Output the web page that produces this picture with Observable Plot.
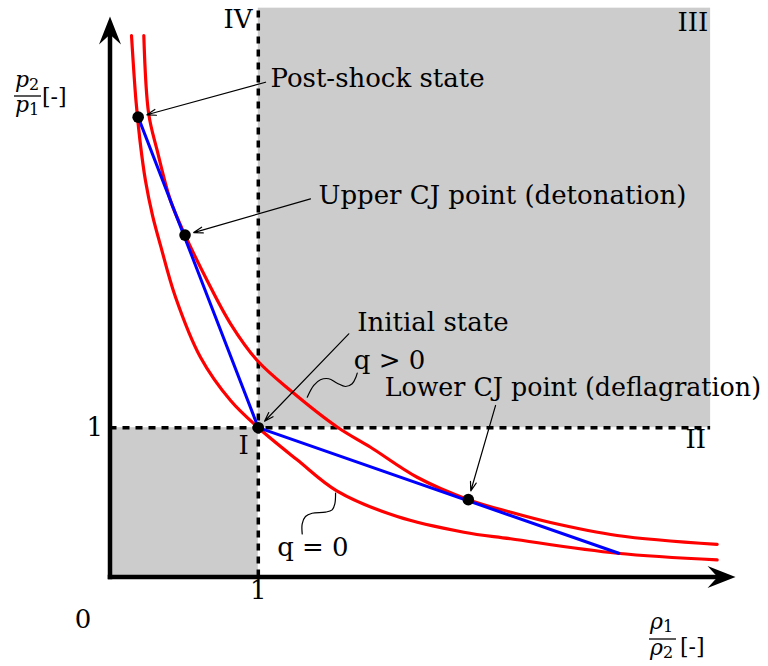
<!DOCTYPE html>
<html>
<head>
<meta charset="utf-8">
<script src="https://cdn.jsdelivr.net/npm/d3@7"></script>
<script src="https://cdn.jsdelivr.net/npm/@observablehq/plot@0.6"></script>
<style>
  body { margin: 0; background: #fff; }
  svg { display: block; }
</style>
</head>
<body>
<div id="chart"></div>
<script>
// ---- Hugoniot curve, q = 0 (passes through the initial state) ----
const q0X = [0.145, 0.175, 0.202, 0.239, 0.287, 0.341, 0.442, 0.610, 0.813, 1.000, 1.262, 1.532, 1.937, 2.386, 2.701, 3.420, 4.094];
const q0Y = [3.627, 3.192, 2.924, 2.656, 2.421, 2.220, 1.874, 1.472, 1.182, 1.000, 0.785, 0.575, 0.405, 0.300, 0.256, 0.159, 0.115];

// ---- Hugoniot curve, q > 0 ----
const qpX = [0.228, 0.261, 0.318, 0.408, 0.506, 0.655, 0.813, 0.993, 1.217, 1.534, 1.757, 2.071, 2.416, 2.701, 2.970, 3.420, 4.094];
const qpY = [3.627, 3.102, 2.857, 2.521, 2.290, 1.986, 1.696, 1.450, 1.249, 1.003, 0.869, 0.668, 0.518, 0.434, 0.365, 0.278, 0.218];

// ---- Rayleigh lines (blue) ----
const detonationX = [1.000, 0.190];
const detonationY = [1.000, 3.080];
const deflagrationX = [1.000, 3.431];
const deflagrationY = [1.000, 0.159];

// ---- Marked states ----
const stateNames = ["Post-shock state", "Upper CJ point (detonation)", "Initial state", "Lower CJ point (deflagration)"];
const stateX = [0.190, 0.506, 1.000, 2.416];
const stateY = [3.080, 2.290, 1.000, 0.518];
const labelX = [1.082, 1.406, 1.667, 1.852];
const labelY = [3.279, 2.495, 1.646, 1.211];
const arrowFromX = [1.049, 1.352, 1.610, 2.600];
const arrowFromY = [3.314, 2.533, 1.629, 1.149];

// ---- Quadrants ----
const quadrantNames = ["I", "II", "III", "IV"];
const quadrantX = [0.866, 3.880, 3.827, 0.765];
const quadrantY = [0.825, 0.861, 3.660, 3.674];
const shadedX1 = [0, 1];
const shadedX2 = [1, 4.05];
const shadedY1 = [0, 1];
const shadedY2 = [1, 3.81];

// ---- Heat-release labels and their brace squiggles ----
const heatNames = ["q > 0", "q = 0"];
const heatX = [1.644, 1.127];
const heatY = [1.390, 0.144];
const braceQpX = [1.330, 1.374, 1.419, 1.475, 1.532, 1.588, 1.633, 1.660, 1.667];
const braceQpY = [1.204, 1.283, 1.321, 1.328, 1.298, 1.276, 1.294, 1.343, 1.365];
const braceQ0X = [1.521, 1.516, 1.498, 1.453, 1.363, 1.318, 1.296, 1.296];
const braceQ0Y = [0.562, 0.490, 0.450, 0.434, 0.427, 0.405, 0.356, 0.289];

// ---- Axes ----
const axisTipX = 4.218;
const axisTipY = 3.754;
const tickValue = 1;

// ---- build tables ----
const zip = (xs, ys) => xs.map((x, i) => ({x, y: ys[i]}));
const q0 = zip(q0X, q0Y);
const qp = zip(qpX, qpY);
const det = zip(detonationX, detonationY);
const defl = zip(deflagrationX, deflagrationY);
const states = stateNames.map((name, i) => ({
  name, x: stateX[i], y: stateY[i], lx: labelX[i], ly: labelY[i], ax: arrowFromX[i], ay: arrowFromY[i]
}));
const quadrants = quadrantNames.map((name, i) => ({name, x: quadrantX[i], y: quadrantY[i]}));
const shaded = shadedX1.map((x1, i) => ({x1, x2: shadedX2[i], y1: shadedY1[i], y2: shadedY2[i]}));
const heat = heatNames.map((name, i) => ({name, x: heatX[i], y: heatY[i]}));
const braceQp = zip(braceQpX, braceQpY);
const braceQ0 = zip(braceQ0X, braceQ0Y);
const axisLines = [
  {x1: 0, y1: 0, x2: axisTipX - 0.10, y2: 0},
  {x1: 0, y1: 0, x2: 0, y2: axisTipY - 0.10}
];
const axisHeads = [
  {x: axisTipX, y: 0, r: 0},
  {x: 0, y: axisTipY, r: -90}
];

const stealth = {
  draw(ctx) {
    ctx.moveTo(0, 0);
    ctx.lineTo(-28, -11);
    ctx.lineTo(-18, 0);
    ctx.lineTo(-28, 11);
    ctx.closePath();
  }
};

const FONT = "DejaVu Serif";
const FS = 26;

const chart = Plot.plot({
  width: 768,
  height: 666,
  marginLeft: 109.5,
  marginRight: 20.8,
  marginTop: 1.7,
  marginBottom: 89.5,
  x: {domain: [0, 4.3], axis: null},
  y: {domain: [0, 3.85], axis: null},
  style: {fontFamily: FONT, background: "white"},
  marks: [
    Plot.rect(shaded, {x1: "x1", x2: "x2", y1: "y1", y2: "y2", fill: "#cccccc"}),
    Plot.ruleX([tickValue], {y1: 0, y2: 3.81, stroke: "black", strokeWidth: 3.5, strokeDasharray: "7,6"}),
    Plot.ruleY([tickValue], {x1: 0, x2: 4.05, stroke: "black", strokeWidth: 3.5, strokeDasharray: "7,6"}),
    Plot.line(q0, {x: "x", y: "y", stroke: "#ff0000", strokeWidth: 3.2, curve: "catmull-rom"}),
    Plot.line(qp, {x: "x", y: "y", stroke: "#ff0000", strokeWidth: 3.2, curve: "catmull-rom"}),
    Plot.line(det, {x: "x", y: "y", stroke: "#0000ff", strokeWidth: 3}),
    Plot.line(defl, {x: "x", y: "y", stroke: "#0000ff", strokeWidth: 3}),
    Plot.dot(states, {x: "x", y: "y", r: 5.8, fill: "black"}),
    Plot.line(braceQp, {x: "x", y: "y", stroke: "black", strokeWidth: 1.2, curve: "catmull-rom"}),
    Plot.line(braceQ0, {x: "x", y: "y", stroke: "black", strokeWidth: 1.2, curve: "catmull-rom"}),
    Plot.arrow(states, {x1: "ax", y1: "ay", x2: "x", y2: "y", stroke: "black", strokeWidth: 1.2, headLength: 12, headAngle: 36, insetEnd: 9}),
    Plot.link(axisLines, {x1: "x1", y1: "y1", x2: "x2", y2: "y2", stroke: "black", strokeWidth: 4.5, strokeLinecap: "square"}),
    Plot.dot(axisHeads, {x: "x", y: "y", symbol: stealth, rotate: "r", fill: "black", stroke: "none"}),
    Plot.text(states, {x: "lx", y: "ly", text: "name", textAnchor: "start", lineAnchor: "bottom", fontSize: d => (d.name.length > 28 ? 25.3 : FS), fill: "black"}),
    Plot.text(quadrants, {x: "x", y: "y", text: "name", textAnchor: "start", lineAnchor: "bottom", fontSize: FS, fill: "black"}),
    Plot.text(heat, {x: "x", y: "y", text: "name", textAnchor: "start", lineAnchor: "bottom", fontSize: FS, fill: "black"}),
    Plot.text([tickValue], {x: 0, y: d => d, text: d => String(d), textAnchor: "end", lineAnchor: "middle", dx: -7, fontSize: FS, fill: "black"}),
    Plot.text([tickValue], {x: d => d, y: 0, text: d => String(d), textAnchor: "middle", lineAnchor: "top", dy: 4, fontSize: FS, fill: "black"}),
    Plot.text([0], {x: d => d, y: d => d, text: d => String(d), textAnchor: "middle", lineAnchor: "bottom", dx: -27, dy: 50.5, fontSize: FS, fill: "black"})
  ]
});

document.getElementById("chart").appendChild(chart);

// fraction-style axis labels
const svg = d3.select(chart);
function fraction(g, x, numBase, barY, denBase, num, numSub, den, denSub, barW) {
  const t1 = g.append("text").attr("x", x).attr("y", numBase).attr("font-size", 22);
  t1.append("tspan").attr("font-style", "italic").text(num);
  t1.append("tspan").attr("font-size", 16).attr("dy", 3).text(numSub);
  g.append("line").attr("x1", x - 1).attr("x2", x - 1 + barW).attr("y1", barY).attr("y2", barY)
    .attr("stroke", "black").attr("stroke-width", 1.3);
  const t2 = g.append("text").attr("x", x).attr("y", denBase).attr("font-size", 22);
  t2.append("tspan").attr("font-style", "italic").text(den);
  t2.append("tspan").attr("font-size", 16).attr("dy", 3).text(denSub);
}
const lab = svg.append("g").attr("font-family", FONT).attr("fill", "black").attr("text-anchor", "start");
fraction(lab, 15, 86.5, 96, 112, "p", "2", "p", "1", 27);
lab.append("text").attr("x", 42).attr("y", 103.5).attr("font-size", 22).text("[-]");
fraction(lab, 650, 628.5, 639, 654.5, "ρ", "1", "ρ", "2", 27);
lab.append("text").attr("x", 680).attr("y", 653.5).attr("font-size", 22).text("[-]");
</script>
</body>
</html>
